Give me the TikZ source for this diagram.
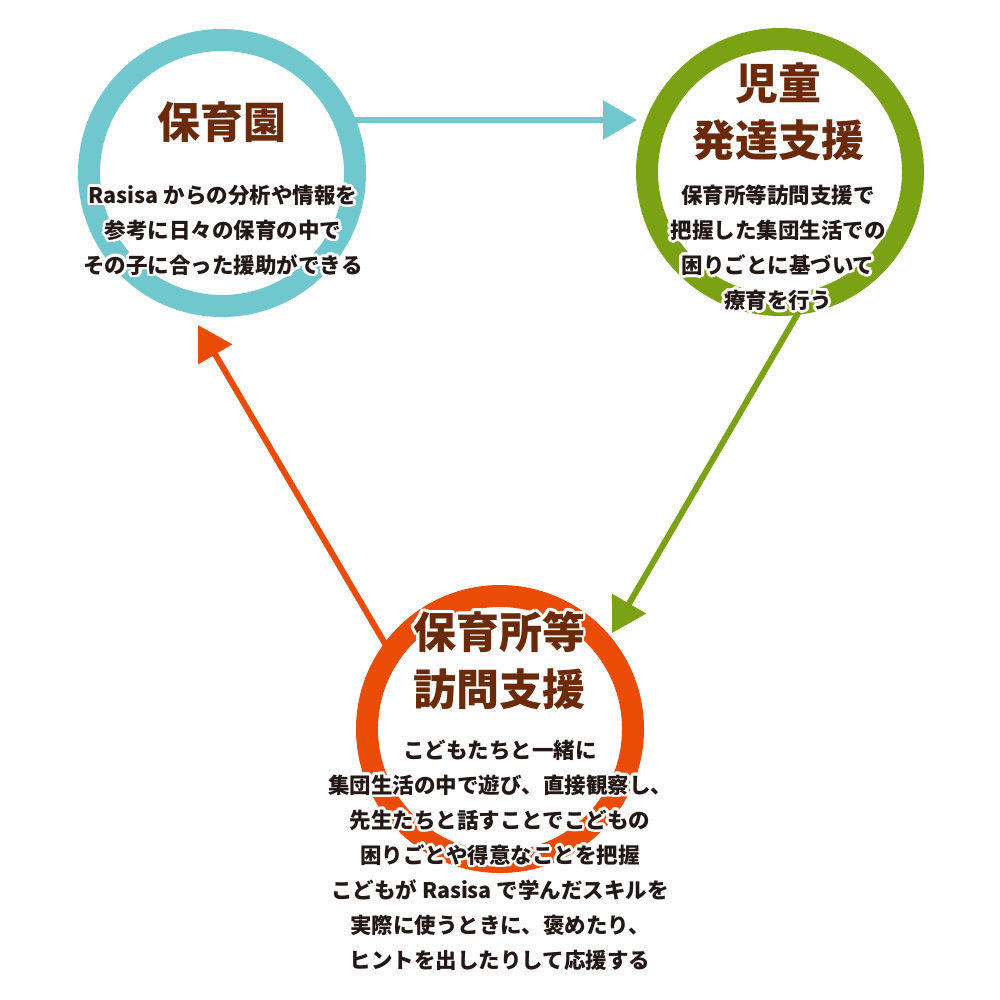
\documentclass[tikz,border=0pt]{standalone}
\usepackage{fontspec}
\setmainfont{Noto Sans CJK JP}
\usetikzlibrary{arrows.meta,calc}
\definecolor{cteal}{HTML}{70C7CE}
\definecolor{cgreen}{HTML}{7BA115}
\definecolor{corange}{HTML}{EA4C08}
\definecolor{ctitle}{HTML}{6B2A0A}
\definecolor{cbody}{HTML}{231815}
\tikzset{
  ring/.style={circle,draw=#1,line width=22pt,minimum size=266pt,inner sep=0pt,outer sep=0pt},
  conn/.style={draw=#1,line width=6pt,-{Triangle[length=34pt,width=38pt]}},
  ttl/.style={text=ctitle,font=\bfseries\fontsize{43}{57}\selectfont,align=center,inner sep=0pt},
  bdy/.style={text=cbody,font=\bfseries\fontsize{21.5}{35}\selectfont,align=center,inner sep=0pt},
}
\newcommand\halonode[4]{%
  \foreach \ang in {0,22.5,...,337.5}{\node[#2,text=white] at ($(#3)+(\ang:2.8)$) {#4};}
  \node[#2] (#1) at (#3) {#4};}
\begin{document}
\begin{tikzpicture}[x=1pt,y=-1pt]
\useasboundingbox (0,0) rectangle (1000,1000);
\fill[white] (0,0) rectangle (1000,1000);
% connector end points
\coordinate (a1s) at (350,120);
\coordinate (a1e) at (637,120);
\coordinate (a2s) at (801,308);
\coordinate (a2e) at (612,633);
\coordinate (a3s) at (387,647);
\coordinate (a3e) at (198,325);
\draw[conn=cteal] (a1s) -- (a1e);
\draw[conn=cgreen] (a2s) -- (a2e);
\draw[conn=corange] (a3s) -- (a3e);
% rings
\node[ring=cteal] (hoikuen) at (222,173) {};
\node[ring=cgreen] (jido) at (780,172) {};
\node[ring=corange] (homon) at (500,729) {};
% texts
\halonode{hoikuenT}{ttl}{222,122}{保育園}
\halonode{hoikuenB}{bdy}{223,230}{Rasisa からの分析や情報を\\参考に日々の保育の中で\\その子に合った援助ができる}
\halonode{jidoT}{ttl}{778,111.5}{児童\\発達支援}
\halonode{jidoB}{bdy}{778,247.5}{保育所等訪問支援で\\把握した集団生活での\\困りごとに基づいて\\療育を行う}
\halonode{homonT}{ttl}{499,660}{保育所等\\訪問支援}
\halonode{homonB}{bdy}{500,855}{こどもたちと一緒に\\集団生活の中で遊び、直接観察し、\\先生たちと話すことでこどもの\\困りごとや得意なことを把握\\こどもが Rasisa で学んだスキルを\\実際に使うときに、褒めたり、\\ヒントを出したりして応援する}
\end{tikzpicture}
\end{document}
